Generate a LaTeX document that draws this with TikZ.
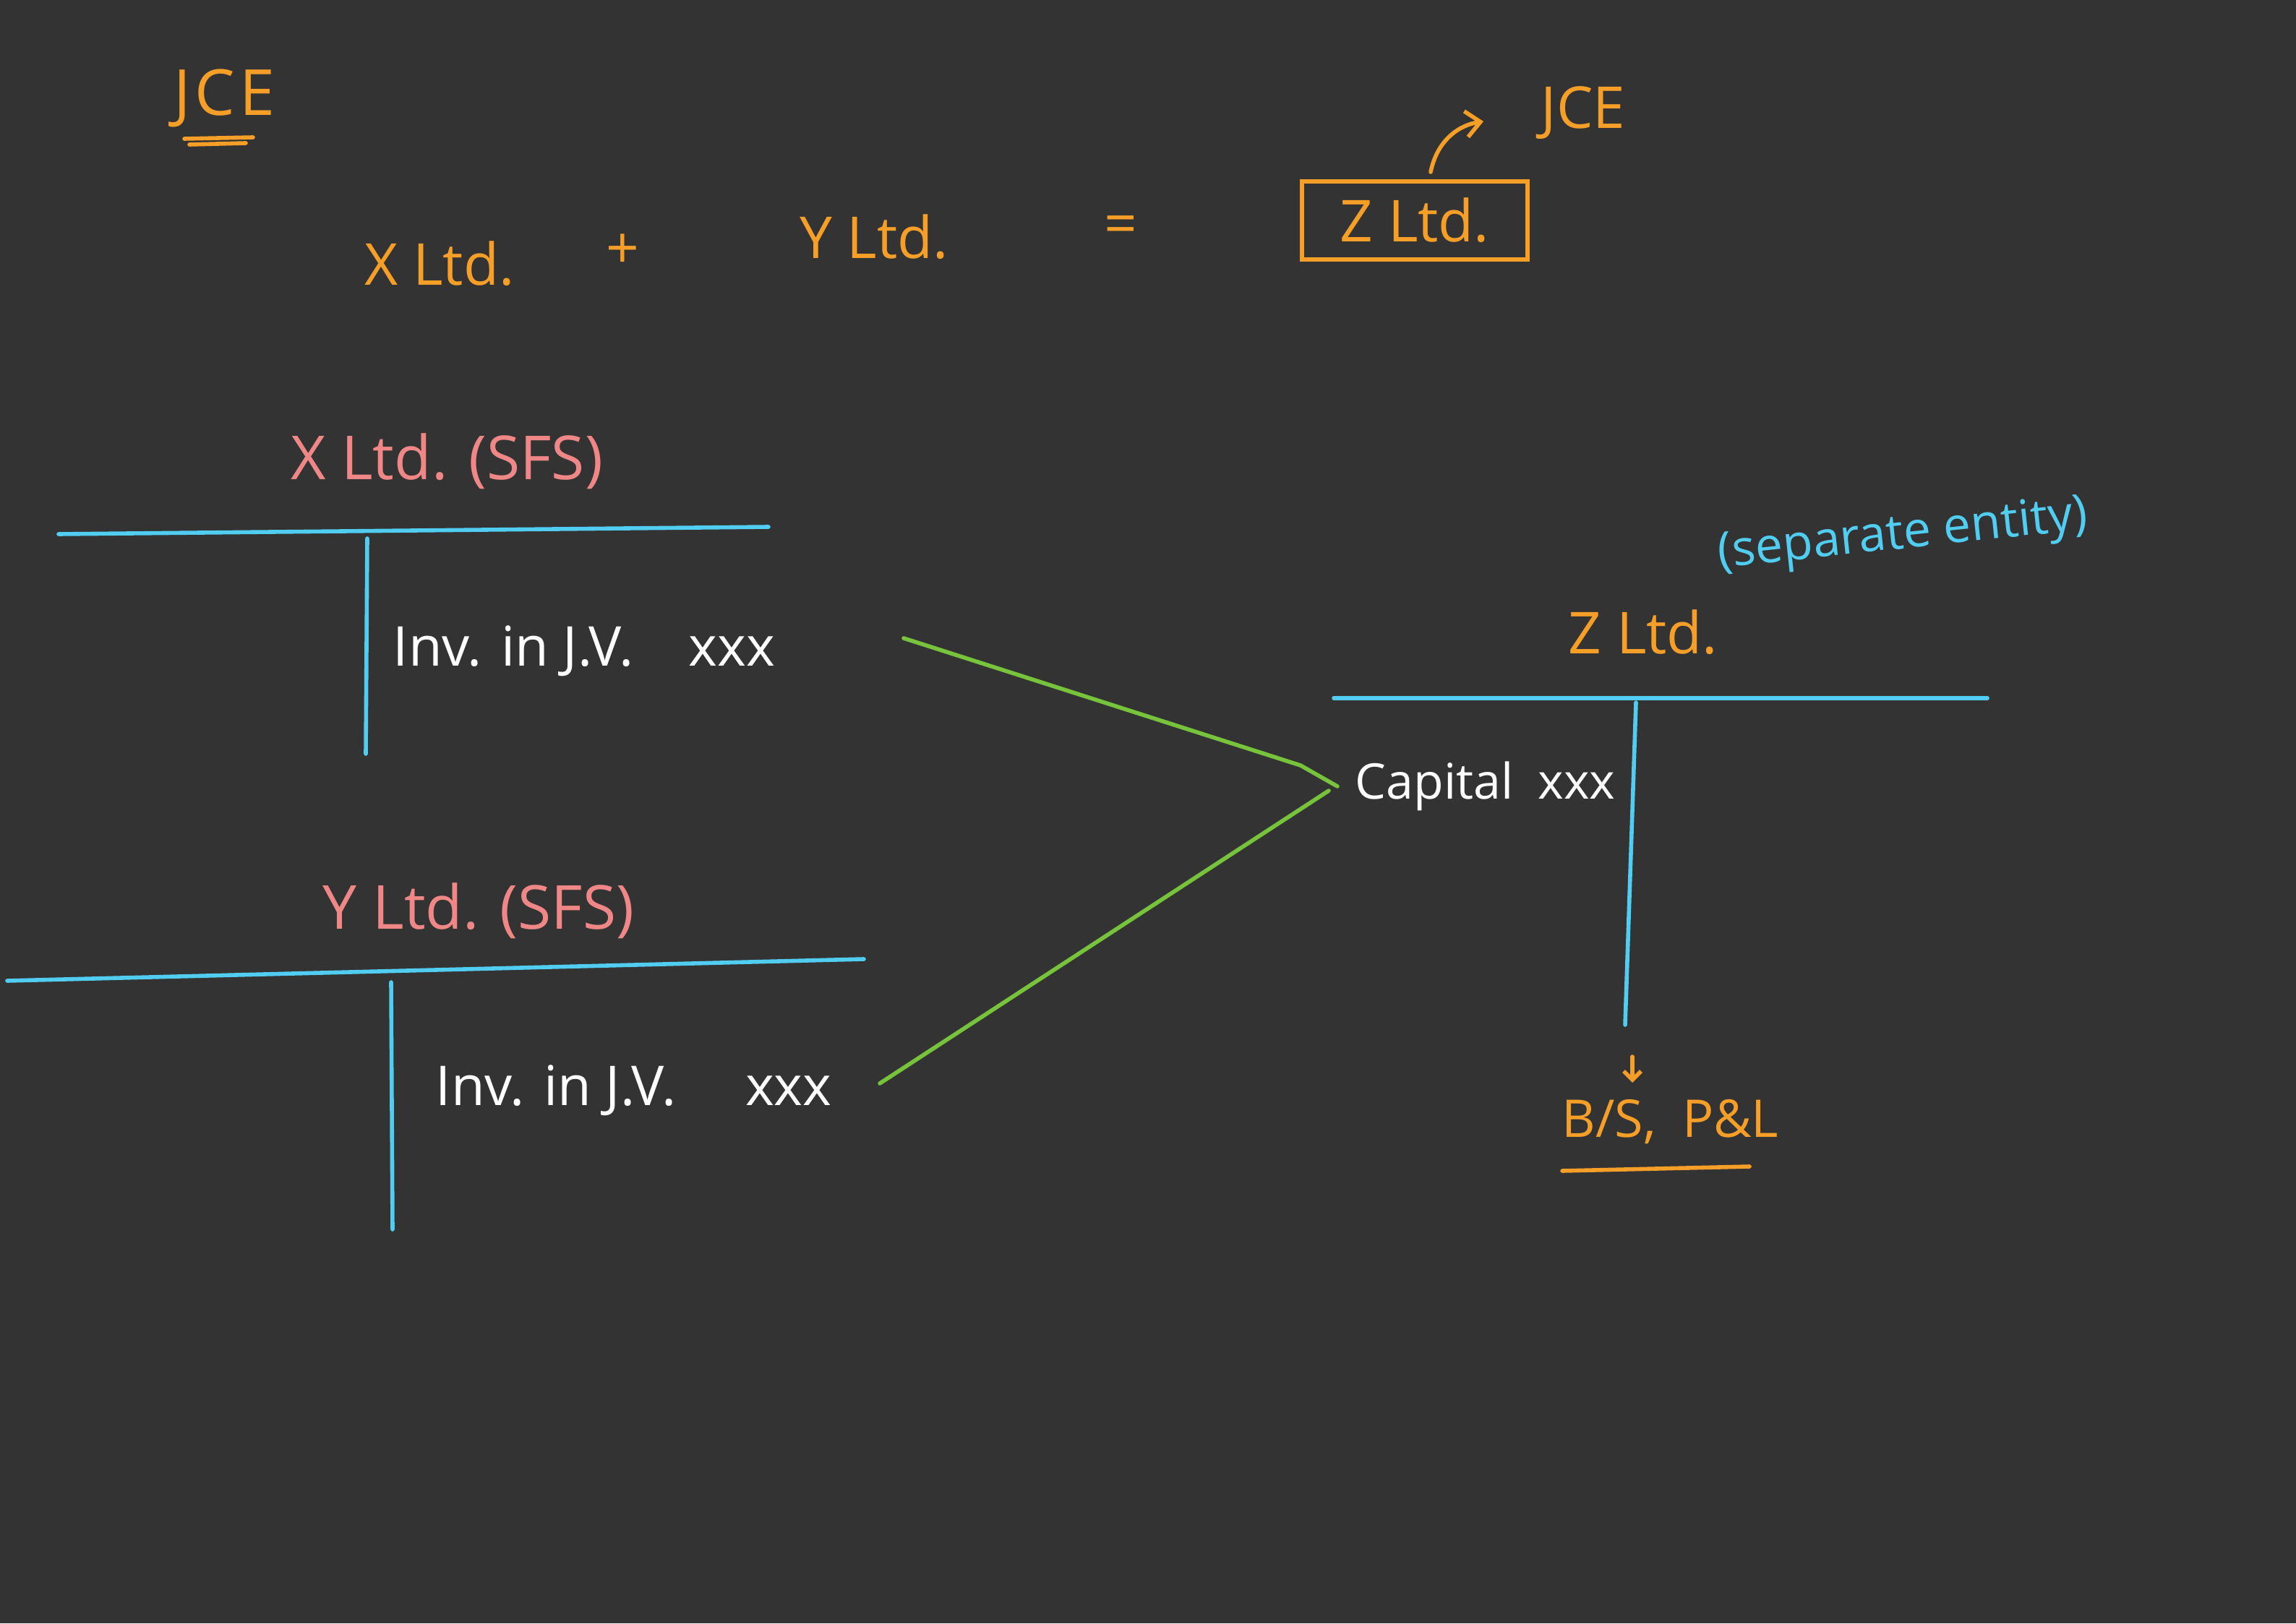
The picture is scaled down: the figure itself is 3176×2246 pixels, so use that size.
\documentclass[tikz,border=0pt]{standalone}
\usepackage{fontspec}
\setmainfont{Open Sans}
\usetikzlibrary{arrows.meta}
\definecolor{bg}{RGB}{51,51,51}
\definecolor{ora}{RGB}{245,158,40}
\definecolor{pnk}{RGB}{240,135,135}
\definecolor{cyn}{RGB}{80,205,240}
\definecolor{grn}{RGB}{120,195,60}
\begin{document}
\begin{tikzpicture}[x=0.25pt,y=-0.25pt,
  pen/.style={line width=1.4pt,line cap=round,line join=round},
  otext/.style={text=ora,font=\fontsize{20}{24}\selectfont,inner sep=0pt},
  ptext/.style={text=pnk,font=\fontsize{21}{24}\selectfont,inner sep=0pt},
  wtext/.style={text=white,font=\fontsize{19}{24}\selectfont,inner sep=0pt},
  ctext/.style={text=cyn,font=\fontsize{17}{20}\selectfont,inner sep=0pt},
  tline/.style={pen,draw=cyn},
  gline/.style={pen,draw=grn},
  oline/.style={pen,draw=ora}]
\fill[bg] (0,0) rectangle (3176,2246);
\useasboundingbox (0,0) rectangle (3176,2246);
% top row
\node[otext,font=\fontsize{22}{26}\selectfont] (jce1) at (310,136) {J\kern1.5pt C\kern1.5pt E};
\draw[oline] (255,192) -- (350,190);
\draw[oline] (262,200) -- (340,198);
\node[otext] (xltd) at (608,365) {X Ltd.};
\node[otext] (plus) at (861,348) {+};
\node[otext] (yltd) at (1209,328) {Y Ltd.};
\node[otext] (eq) at (1550,318) {=};
\node[otext,draw=ora,line width=1.4pt,minimum width=78pt,minimum height=27pt] (zbox) at (1957,305) {Z Ltd.};
\node[otext] (jce2) at (2190,156) {JCE};
\coordinate (zarr) at (1979,238);
\coordinate (jtip) at (2052,168);
\draw[oline,-{Straight Barb[length=5pt,width=9pt]}] (zarr) to[bend left=35] (jtip);
% X Ltd T account
\node[ptext] (xsfs) at (618,638) {X Ltd. (SFS)};
\draw[tline] (81,739) -- (1063,729);
\draw[tline] (508,745) -- (506,1043);
\node[wtext,anchor=west] (inv1) at (543,901) {Inv. in J.V.\quad xxx};
% Y Ltd T account
\node[ptext] (ysfs) at (662,1260) {Y Ltd. (SFS)};
\draw[tline] (10,1357) -- (1195,1327);
\draw[tline] (541,1359) -- (543,1701);
\node[wtext,anchor=west] (inv2) at (602,1509) {Inv. in J.V.\quad\ xxx};
% Z Ltd T account
\node[ctext,rotate=6] (sep) at (2632,742) {(separate entity)};
\node[otext] (zltd) at (2273,875) {Z Ltd.};
\draw[tline] (1845,966) -- (2749,966);
\draw[tline] (2263,972) -- (2248,1418);
\node[wtext,font=\fontsize{17}{20}\selectfont,anchor=west] (cap) at (1874,1088) {Capital\enspace xxx};
% green connectors
\coordinate (g1s) at (1250,883);
\coordinate (g2s) at (1217,1499);
\draw[gline] (g1s) -- (1799,1059) -- ([xshift=-6pt]cap.west);
\draw[gline] (g2s) -- ([xshift=-9pt,yshift=-1.5pt]cap.west);
% B/S, P&L
\node[otext,font=\fontsize{18}{22}\selectfont,anchor=west] (bs) at (2160,1552) {B/S,\enspace P\&L};
\draw[oline] (2161,1620) -- (2420,1614);
\draw[oline,-{Straight Barb[length=3pt,width=6pt]}] (2258,1462) -- (2258,1498);
\end{tikzpicture}
\end{document}
